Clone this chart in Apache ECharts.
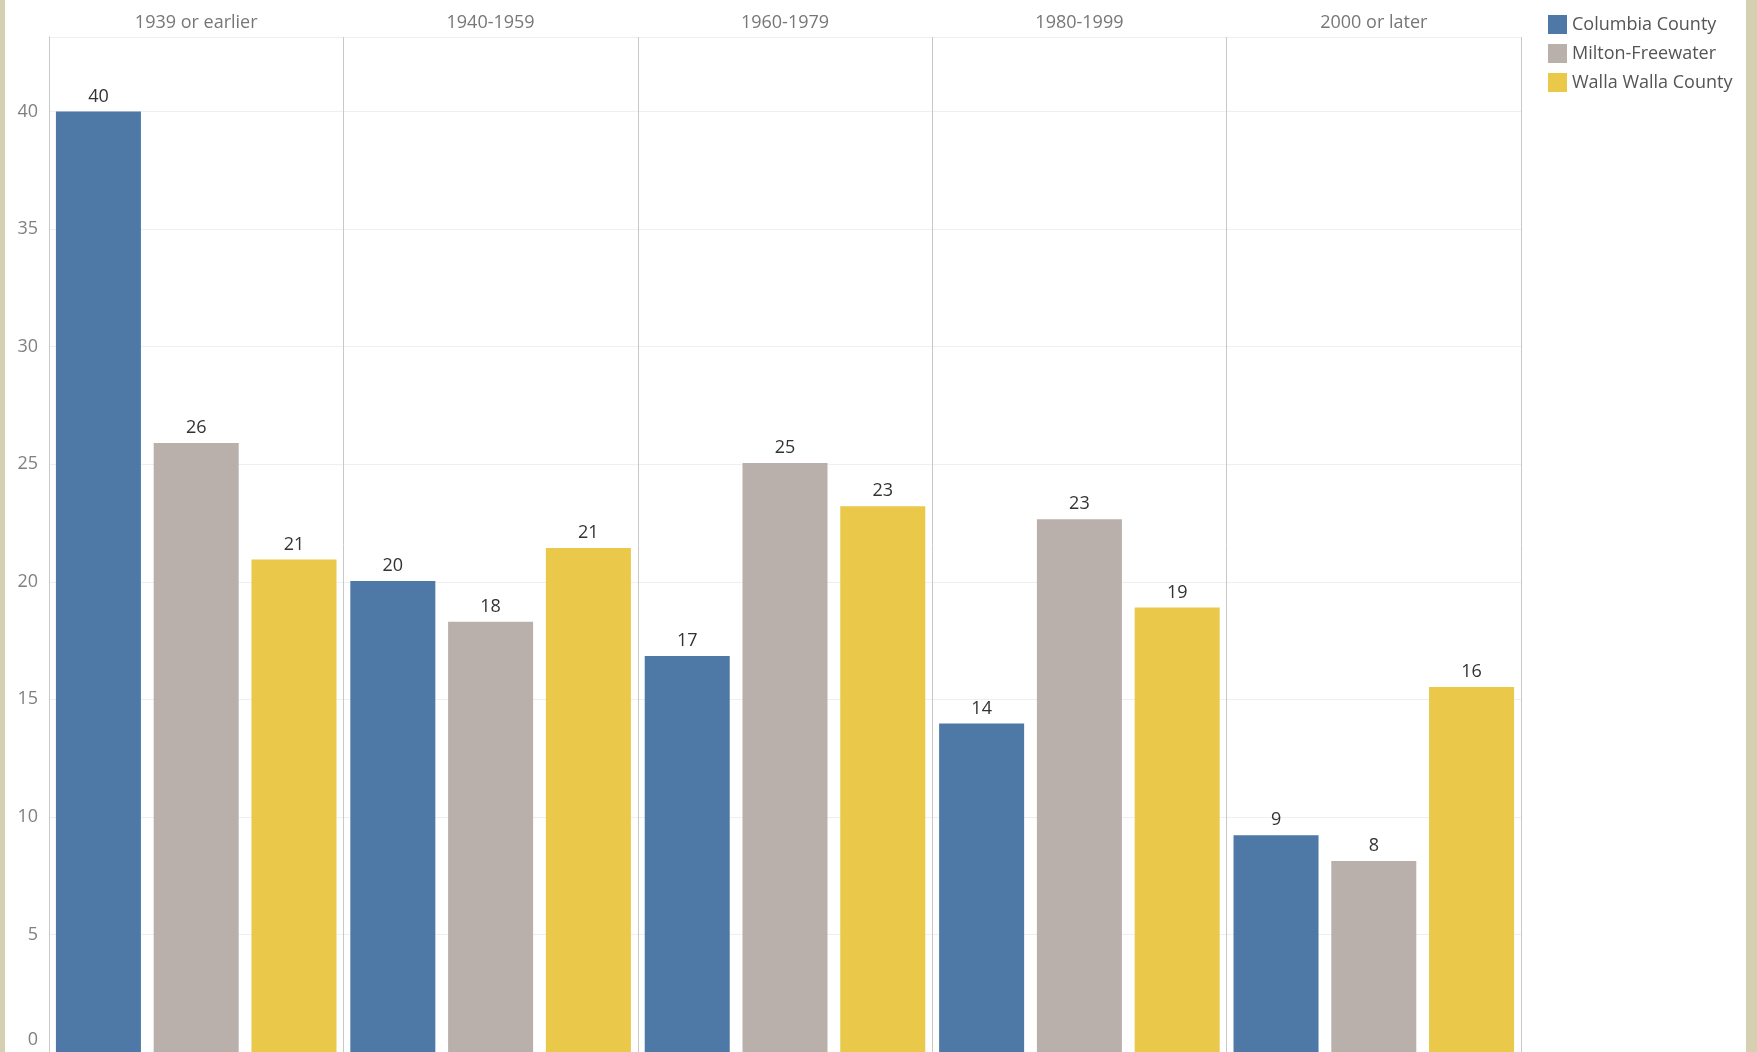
<!DOCTYPE html>
<html>
<head>
<meta charset="utf-8">
<script src="https://cdn.jsdelivr.net/npm/echarts@6/dist/echarts.min.js"></script>
<style>
  html, body { margin: 0; padding: 0; background: #d6d0b2; }
  #chart { position: absolute; left: 5px; top: 0; width: 1741px; height: 1052px; background: #ffffff; }
</style>
</head>
<body>
<div id="chart"></div>
<script>
const categories = ['1939 or earlier', '1940-1959', '1960-1979', '1980-1999', '2000 or later'];
const seriesNames = ['Columbia County', 'Milton-Freewater', 'Walla Walla County'];
const columbia = [40.0, 20.03, 16.84, 13.97, 9.22];
const milton = [25.9, 18.3, 25.05, 22.66, 8.12];
const walla = [20.95, 21.44, 23.21, 18.91, 15.52];
const colors = ['#4e79a6', '#bab0ab', '#e9c84a'];
const yMax = 43.17;
const yInterval = 5;

const FONT = 'Open Sans';
const FS = 18;
const chart = echarts.init(document.getElementById('chart'));

function makeSeries(name, data, color) {
  return {
    name: name,
    type: 'bar',
    data: data,
    barGap: '15%',
    barCategoryGap: '4.7%',
    itemStyle: { color: color },
    label: {
      show: true,
      position: 'top',
      distance: 6,
      color: '#333333',
      fontFamily: FONT,
      fontSize: FS,
      formatter: p => Math.round(p.value)
    },
    emphasis: { disabled: true }
  };
}

chart.setOption({
  animation: false,
  textStyle: { fontFamily: FONT },
  legend: {
    orient: 'vertical',
    left: 1538,
    top: 10,
    itemWidth: 19,
    itemHeight: 19,
    itemGap: 10,
    icon: 'rect',
    data: seriesNames,
    textStyle: { color: '#555555', fontSize: FS, fontFamily: FONT }
  },
  grid: { left: 44, right: 225, top: 37, bottom: -2, containLabel: false },
  xAxis: {
    type: 'category',
    data: categories,
    position: 'top',
    axisLine: { show: true, lineStyle: { color: '#c8c8c8', width: 1 } },
    axisTick: { show: true, inside: false, length: 30, lineStyle: { color: '#c8c8c8' } },
    axisLabel: { color: '#777777', fontSize: FS, fontFamily: FONT, margin: 5 },
    splitLine: { show: true, lineStyle: { color: '#c8c8c8', width: 1 } }
  },
  yAxis: {
    type: 'value',
    min: 0,
    max: yMax,
    interval: yInterval,
    axisLine: { show: true, lineStyle: { color: '#c8c8c8' } },
    axisTick: { show: false },
    splitLine: { show: true, lineStyle: { color: '#efefef' } },
    axisLabel: {
      color: '#808080',
      fontSize: FS,
      fontFamily: FONT,
      margin: 11,
      formatter: v => (v % yInterval === 0 ? (v === 0 ? '{z|0}' : String(v)) : ''),
      rich: { z: { padding: [0, 0, 24, 0], color: '#808080', fontSize: FS, fontFamily: FONT } }
    }
  },
  series: [
    makeSeries(seriesNames[0], columbia, colors[0]),
    makeSeries(seriesNames[1], milton, colors[1]),
    makeSeries(seriesNames[2], walla, colors[2])
  ]
});
</script>
</body>
</html>
